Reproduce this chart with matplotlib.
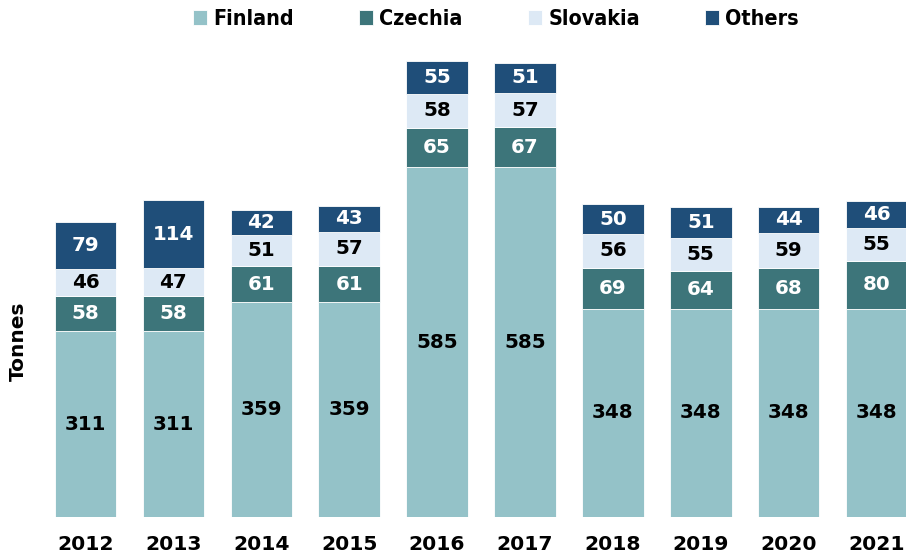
import matplotlib
matplotlib.use("Agg")
import matplotlib.pyplot as plt
import numpy as np
from matplotlib import font_manager as fm

years = ["2012", "2013", "2014", "2015", "2016", "2017", "2018", "2019", "2020", "2021"]
finland = [311, 311, 359, 359, 585, 585, 348, 348, 348, 348]
czechia = [58, 58, 61, 61, 65, 67, 69, 64, 68, 80]
slovakia = [46, 47, 51, 57, 58, 57, 56, 55, 59, 55]
others = [79, 114, 42, 43, 55, 51, 50, 51, 44, 46]

series = [("Finland", finland, "#94c2c8", "black"),
          ("Czechia", czechia, "#3d757a", "white"),
          ("Slovakia", slovakia, "#dde9f5", "black"),
          ("Others", others, "#1f4e79", "white")]

names = {f.name for f in fm.fontManager.ttflist}
cond = any("Condensed" in f.fname and "DejaVu" in f.name for f in fm.fontManager.ttflist)
stretch = "condensed" if cond else "normal"
lscale = 1.1 if cond else 1.0

W, H = 906, 557
fig = plt.figure(figsize=(W / 100, H / 100), dpi=100)
ax_bottom = 557 - 517
ax_top = 40
ax = fig.add_axes([0, ax_bottom / H, 1, (H - ax_bottom - ax_top) / H])

x = np.arange(len(years))
step = 87.9
c0 = 85.5
ax.set_xlim(-c0 / step, (W - c0) / step)
axh = H - ax_bottom - ax_top
ax.set_ylim(0, axh / 0.598)

fs = 14.3
bottom = np.zeros(len(years))
handles = []
for name, vals, color, tcol in series:
    vals = np.array(vals, dtype=float)
    b = ax.bar(x, vals, bottom=bottom, width=0.70, color=color,
               edgecolor="white", linewidth=0.6, label=name)
    handles.append(b)
    for xi, v, bt in zip(x, vals, bottom):
        ax.text(xi, bt + v / 2, f"{int(v)}", ha="center", va="center",
                color=tcol, fontsize=fs, fontweight="bold")
    bottom += vals

ax.set_xticks(x)
ax.set_xticklabels(years, fontsize=14.6, fontweight="bold")
ax.tick_params(axis="x", length=0, pad=13)
ax.set_yticks([])
for s in ax.spines.values():
    s.set_visible(False)
ax.patch.set_alpha(0)

fig.text(18 / W, 1 - 341 / H, "Tonnes", rotation=90, ha="center", va="center",
         fontsize=14.5, fontweight="bold")

leg = fig.legend(handles=handles, loc="center", bbox_to_anchor=(496 / W, 1 - 19 / H),
                 ncol=4, frameon=False,
                 prop={"weight": "bold", "size": 14 * lscale, "stretch": stretch},
                 handlelength=0.65, handleheight=0.75, handletextpad=0.3,
                 columnspacing=3.05, borderaxespad=0)

fig.savefig("out.png", dpi=100)
